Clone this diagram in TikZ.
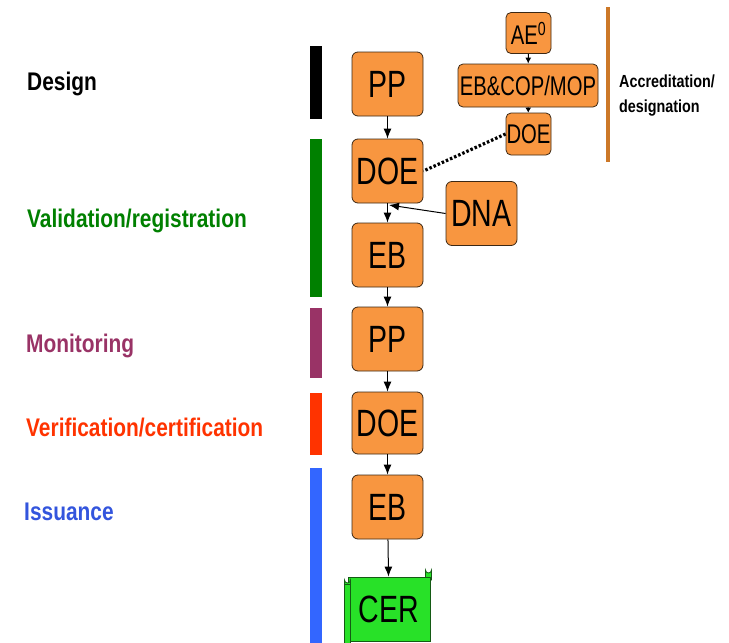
\documentclass[tikz,border=0pt]{standalone}
\usepackage{fontspec}
\usetikzlibrary{arrows.meta}
\newfontfamily\labfont[FakeStretch=0.82]{Liberation Sans Bold}
\newfontfamily\boxfont[FakeStretch=0.75]{Liberation Sans}
\definecolor{boxorange}{RGB}{248,150,64}
\definecolor{boxedge}{RGB}{60,40,20}
\definecolor{cergreen}{RGB}{40,225,40}
\definecolor{ceredge}{RGB}{20,90,20}
\definecolor{cdmgreen}{RGB}{0,128,0}
\definecolor{cdmpurple}{RGB}{153,51,102}
\definecolor{cdmred}{RGB}{255,51,0}
\definecolor{cdmbluetext}{RGB}{51,85,221}
\definecolor{cdmblue}{RGB}{51,102,255}
\definecolor{accbar}{RGB}{204,120,40}
\tikzset{
  bigbox/.style={draw=boxedge, fill=boxorange, rounded corners=6pt, line width=0.8pt,
    inner sep=0pt, minimum width=71pt, minimum height=64pt,
    font=\boxfont\fontsize{38}{38}\selectfont},
  smallbox/.style={draw=boxedge, fill=boxorange, rounded corners=5pt, line width=0.8pt,
    inner sep=0pt, minimum height=41pt,
    font=\boxfont\fontsize{27}{27}\selectfont},
  phase/.style={anchor=base west, inner sep=0pt, font=\labfont\fontsize{25.5}{25.5}\selectfont},
  flow/.style={draw=black, line width=1pt, -{Latex[length=10pt,width=8pt]}},
  cerstyle/.style={draw=ceredge, fill=cergreen, line width=0.8pt},
}
\begin{document}
\begin{tikzpicture}[x=1pt,y=-1pt]
\useasboundingbox (0,0) rectangle (729,643);
% phase labels
\node[phase, text=black] (lDesign) at (27,90) {Design};
\node[phase, text=cdmgreen] (lVal) at (27,227) {Validation/registration};
\node[phase, text=cdmpurple] (lMon) at (26,352) {Monitoring};
\node[phase, text=cdmred] (lVer) at (26,436) {Verification/certification};
\node[phase, text=cdmbluetext] (lIss) at (24,520) {Issuance};
% phase bars
\fill[black] (310,46) rectangle (322,119);
\fill[cdmgreen] (310,139) rectangle (322,297);
\fill[cdmpurple] (310,308) rectangle (322,378);
\fill[cdmred] (310,393) rectangle (322,455);
\fill[cdmblue] (310,468) rectangle (322,643);
% accreditation bar
\fill[accbar] (605.5,7) rectangle (609.5,162);
% main column
\node[bigbox] (pp1) at (387.5,84) {PP};
\node[bigbox] (doe1) at (387.5,171) {DOE};
\node[bigbox] (eb1) at (387.5,255) {EB};
\node[bigbox] (pp2) at (387.5,339) {PP};
\node[bigbox, minimum height=62pt] (doe2) at (387.5,423) {DOE};
\node[bigbox] (eb2) at (387.5,507) {EB};
\node[bigbox] (dna) at (481.5,213.5) {DNA};
% CER scroll
\draw[cerstyle] (425.5,580) -- (425.5,570) arc[start angle=180,end angle=0,radius=3] -- (431.5,580) -- cycle;
\node[cerstyle, inner sep=0pt, minimum width=82pt, minimum height=64pt,
  font=\boxfont\fontsize{38}{38}\selectfont] (cer) at (389,609) {CER};
\draw[cerstyle] (344.5,645) -- (344.5,580) arc[start angle=180,end angle=0,radius=3] -- (350.5,645) -- cycle;
\draw[ceredge, line width=0.6pt] (345,584) -- (350,584);
% accreditation cluster
\node[smallbox, minimum width=45pt] (ae) at (528.5,33) {AE\textsuperscript{0}};
\node[smallbox, minimum width=140pt, minimum height=43pt] (ebcop) at (528,85.5) {EB\&COP/MOP};
\node[smallbox, minimum width=45pt, minimum height=42pt] (does) at (528.5,134) {DOE};
\node[anchor=west, inner sep=0pt, align=left, font=\labfont\fontsize{17.5}{25}\selectfont] (acc) at (619,96) {Accreditation/\\designation};
% connectors
\draw[flow] (pp1) -- (doe1);
\draw[flow] (doe1) -- (eb1);
\draw[flow] (eb1) -- (pp2);
\draw[flow] (pp2) -- (doe2);
\draw[flow] (doe2) -- (eb2);
\draw[flow] (eb2) -- (cer);
\draw[flow, -{Latex[length=6pt,width=6pt]}] (ae) -- (ebcop);
\draw[flow, -{Latex[length=5pt,width=6pt]}] (ebcop) -- (does);
\coordinate (dnaend) at (389,205);
\draw[flow] (dna.west) -- (dnaend);
\draw[black, line width=3.2pt, dash pattern=on 2.5pt off 2pt] (does.west) -- (doe1.east);
\end{tikzpicture}
\end{document}
